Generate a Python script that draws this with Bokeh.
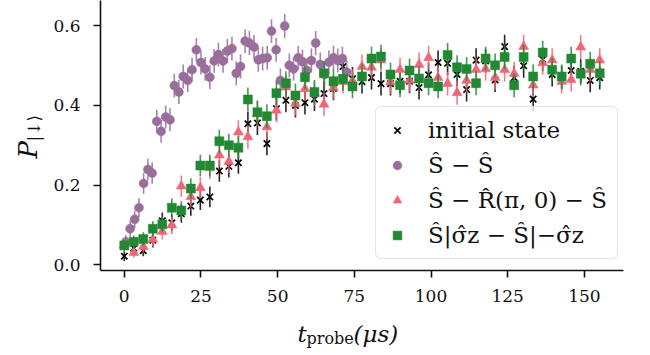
import math
from bokeh.plotting import figure
from bokeh.models import (ColumnDataSource, Legend, LegendItem, Label, FixedTicker,
                          PrintfTickFormatter, Range1d)
from bokeh.core.properties import value
from bokeh.embed import file_html
from bokeh.resources import INLINE

# probe times (us) shared by the three 51-point scans
t_probe = [0.0, 3.1, 6.2, 9.3, 12.4, 15.5, 18.6, 21.7, 24.8, 27.9, 31.0, 34.1, 37.2,
           40.3, 43.4, 46.5, 49.6, 52.7, 55.8, 58.9, 62.0, 65.1, 68.2, 71.3, 74.4,
           77.5, 80.6, 83.7, 86.8, 89.9, 93.0, 96.1, 99.2, 102.3, 105.4, 108.5,
           111.6, 114.7, 117.8, 120.9, 124.0, 127.1, 130.2, 133.3, 136.4, 139.5,
           142.6, 145.7, 148.8, 151.9, 155.0]

# finer probe times for the S-S scan
t_ss = [0.5, 1.9, 3.4, 4.8, 6.3, 7.7, 9.1, 10.6, 12.0, 13.5, 14.9, 16.3, 17.8, 19.2,
        20.7, 22.1, 23.5, 25.0, 26.4, 27.9, 29.3, 30.7, 32.2, 33.6, 35.1, 36.5, 37.9,
        39.4, 40.8, 42.3, 43.7, 45.1, 46.6, 48.0, 49.5, 50.9, 52.3, 53.8, 55.2, 56.7,
        58.1, 59.5, 61.0, 62.4, 63.9, 65.3, 66.7, 68.2, 69.6, 71.1, 72.5]

p_initial = [0.021, 0.041, 0.035, 0.061, 0.110, 0.105, 0.128, 0.147, 0.162, 0.170,
             0.235, 0.247, 0.256, 0.354, 0.356, 0.304, 0.392, 0.413, 0.400, 0.407,
             0.416, 0.430, 0.443, 0.498, 0.467, 0.460, 0.470, 0.455, 0.455, 0.461,
             0.461, 0.445, 0.477, 0.508, 0.506, 0.478, 0.440, 0.514, 0.512, 0.464,
             0.548, 0.470, 0.500, 0.416, 0.516, 0.478, 0.470, 0.488, 0.486, 0.463,
             0.470]
p_ss = [0.057, 0.090, 0.114, 0.143, 0.204, 0.239, 0.230, 0.360, 0.335, 0.371, 0.364,
        0.450, 0.434, 0.473, 0.463, 0.490, 0.540, 0.508, 0.492, 0.471, 0.512, 0.528,
        0.512, 0.537, 0.543, 0.481, 0.498, 0.562, 0.557, 0.547, 0.515, 0.518, 0.520,
        0.587, 0.540, 0.463, 0.600, 0.501, 0.492, 0.520, 0.510, 0.488, 0.513, 0.557,
        0.503, 0.478, 0.509, 0.520, 0.513, 0.518, 0.484]
p_srs = [0.050, 0.030, 0.045, 0.063, 0.083, 0.099, 0.197, 0.170, 0.193, 0.243, 0.275,
         0.259, 0.333, 0.321, 0.379, 0.346, 0.388, 0.446, 0.405, 0.442, 0.430, 0.403,
         0.445, 0.460, 0.461, 0.498, 0.496, 0.514, 0.459, 0.490, 0.463, 0.503, 0.520,
         0.470, 0.455, 0.432, 0.463, 0.490, 0.492, 0.470, 0.490, 0.480, 0.548, 0.451,
         0.507, 0.514, 0.460, 0.465, 0.547, 0.490, 0.514]
p_sz = [0.048, 0.057, 0.064, 0.090, 0.101, 0.143, 0.136, 0.191, 0.249, 0.249, 0.310,
        0.300, 0.294, 0.415, 0.383, 0.373, 0.431, 0.456, 0.425, 0.471, 0.434, 0.481,
        0.461, 0.467, 0.448, 0.473, 0.518, 0.523, 0.478, 0.451, 0.488, 0.468, 0.456,
        0.448, 0.527, 0.496, 0.492, 0.456, 0.518, 0.501, 0.522, 0.451, 0.522, 0.473,
        0.533, 0.490, 0.473, 0.518, 0.480, 0.505, 0.481]

# one-sigma error bars
e_initial = [0.012, 0.015, 0.014, 0.018, 0.021, 0.021, 0.023, 0.024, 0.025, 0.026,
             0.027, 0.028, 0.028, 0.030, 0.030, 0.029, 0.030, 0.030, 0.030, 0.030,
             0.030, 0.030, 0.030, 0.030, 0.030, 0.030, 0.030, 0.030, 0.030, 0.030,
             0.030, 0.030, 0.030, 0.030, 0.030, 0.030, 0.030, 0.030, 0.030, 0.030,
             0.030, 0.030, 0.030, 0.030, 0.030, 0.030, 0.030, 0.030, 0.030, 0.030,
             0.030]
e_ss = [0.017, 0.020, 0.022, 0.024, 0.026, 0.027, 0.027, 0.029, 0.029, 0.029, 0.029,
        0.030, 0.030, 0.030, 0.030, 0.030, 0.030, 0.030, 0.030, 0.030, 0.030, 0.030,
        0.030, 0.030, 0.030, 0.030, 0.030, 0.030, 0.030, 0.030, 0.030, 0.030, 0.030,
        0.030, 0.030, 0.030, 0.030, 0.030, 0.030, 0.030, 0.030, 0.030, 0.030, 0.030,
        0.030, 0.030, 0.030, 0.030, 0.030, 0.030, 0.030]
e_srs = [0.016, 0.013, 0.015, 0.018, 0.020, 0.022, 0.027, 0.026, 0.027, 0.028, 0.029,
         0.029, 0.030, 0.030, 0.030, 0.030, 0.030, 0.030, 0.030, 0.030, 0.030, 0.030,
         0.030, 0.030, 0.030, 0.030, 0.030, 0.030, 0.030, 0.030, 0.030, 0.030, 0.030,
         0.030, 0.030, 0.030, 0.030, 0.030, 0.030, 0.030, 0.030, 0.030, 0.030, 0.030,
         0.030, 0.030, 0.030, 0.030, 0.030, 0.030, 0.030]
e_sz = [0.015, 0.016, 0.017, 0.019, 0.020, 0.023, 0.023, 0.026, 0.027, 0.027, 0.029,
        0.029, 0.029, 0.030, 0.030, 0.030, 0.030, 0.030, 0.030, 0.030, 0.030, 0.030,
        0.030, 0.030, 0.030, 0.030, 0.030, 0.030, 0.030, 0.030, 0.030, 0.030, 0.030,
        0.030, 0.030, 0.030, 0.030, 0.030, 0.030, 0.030, 0.030, 0.030, 0.030, 0.030,
        0.030, 0.030, 0.030, 0.030, 0.030, 0.030, 0.030]

labels = ["initial state", "Ŝ − Ŝ", "Ŝ − R̂(π, 0) − Ŝ", "Ŝ|σ̂z − Ŝ|−σ̂z"]
colors = ["#000000", "#9a6e9a", "#ee6677", "#228833"]
markers = ["x", "circle", "triangle", "square"]
sizes = [9, 9, 10, 9]

SERIF = "DejaVu Serif"

X0, X1 = -7.75, 162.75
Y0, Y1 = -0.015, 0.664
FRAME_L, FRAME_W, FRAME_H = 100, 523, 270

p = figure(width=650, height=355, x_range=Range1d(X0, X1),
           y_range=Range1d(Y0, Y1), output_backend="svg",
           toolbar_location=None, min_border_left=FRAME_L, min_border_right=27,
           min_border_top=0, min_border_bottom=355 - FRAME_H)
p.outline_line_color = None
p.xgrid.visible = False
p.ygrid.visible = False
p.background_fill_color = "white"
p.border_fill_color = "white"

series = [(t_probe, p_initial, e_initial), (t_ss, p_ss, e_ss),
          (t_probe, p_srs, e_srs), (t_probe, p_sz, e_sz)]

renderers = []
for (tt, pp, ee), col, mk, sz in zip(series, colors, markers, sizes):
    src = ColumnDataSource(dict(t=tt, p=pp,
                                lo=[a - b for a, b in zip(pp, ee)],
                                hi=[a + b for a, b in zip(pp, ee)]))
    p.segment(x0="t", y0="lo", x1="t", y1="hi", source=src,
              line_color=col, line_width=1.6, line_alpha=0.85)
    if mk == "x":
        r = p.scatter("t", "p", source=src, marker=mk, size=sz,
                      line_color=col, line_width=1.7)
    else:
        r = p.scatter("t", "p", source=src, marker=mk, size=sz,
                      fill_color=col, line_color=col, line_width=0.5)
    renderers.append(r)

# axes
p.xaxis.ticker = FixedTicker(ticks=[0, 25, 50, 75, 100, 125, 150])
p.yaxis.ticker = FixedTicker(ticks=[0.0, 0.2, 0.4, 0.6])
p.yaxis.formatter = PrintfTickFormatter(format="%.1f")
for ax in (p.xaxis[0], p.yaxis[0]):
    ax.axis_line_width = 1.6
    ax.axis_line_color = "#111111"
    ax.major_tick_line_width = 1.6
    ax.major_tick_line_color = "#111111"
    ax.major_tick_out = 7
    ax.major_tick_in = 0
    ax.minor_tick_line_color = None
    ax.major_label_text_font = SERIF
    ax.major_label_text_font_size = "17px"
    ax.major_label_text_color = "#111111"
p.xaxis.major_label_standoff = 12
p.yaxis.major_label_standoff = 13


# axis titles are assembled from pieces so the subscripts sit correctly.
# They live in the side panels (not clipped to the frame), spread over the
# sides that have spare room; positions are given in canvas pixels and
# turned into data coordinates of the frame.
def piece(side, sx, sy, text, size, style="normal", angle=0.0):
    x = X0 + (sx - FRAME_L) * (X1 - X0) / FRAME_W
    y = Y0 + (FRAME_H - sy) * (Y1 - Y0) / FRAME_H
    p.add_layout(Label(x=x, y=y, text=text,
                       text_font=SERIF, text_font_size=size, text_font_style=style,
                       text_color="#111111", angle=angle,
                       text_align="left", text_baseline="alphabetic"), side)


# x title: t_probe(mu s)
piece("right", 297, 333, "t", "23px", "italic")
piece("below", 306, 338, "probe", "16px")
piece("below", 353, 333, "(μs)", "23px", "italic")

# y title: P_|down>
piece("left", 27, 158, "P", "26px", "italic", math.pi / 2)
piece("left", 33, 141, "|↓⟩", "17px", "normal", math.pi / 2)

legend = Legend(items=[LegendItem(label=value(lab), renderers=[r])
                       for lab, r in zip(labels, renderers)],
                location=(275, 11))
legend.label_text_font = SERIF
legend.label_text_font_size = "23px"
legend.label_text_color = "#111111"
legend.glyph_width = 22
legend.glyph_height = 22
legend.label_standoff = 20
legend.spacing = 9
legend.padding = 10
legend.margin = 0
legend.border_line_color = "#cccccc"
legend.border_line_width = 1.5
legend.border_radius = 6
legend.background_fill_color = "white"
legend.background_fill_alpha = 0.8
p.add_layout(legend)

open("out.html", "w").write(file_html(p, INLINE))
